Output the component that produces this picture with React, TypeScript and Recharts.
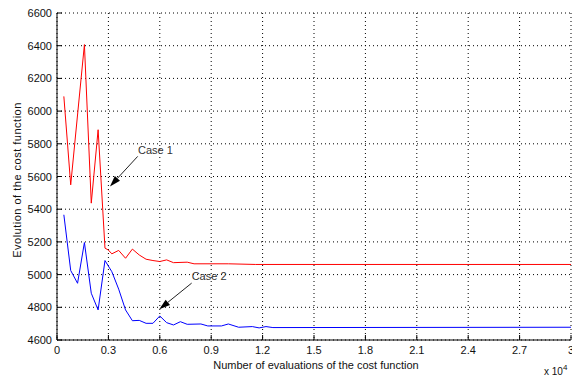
import React from 'react';
import { LineChart, Line, XAxis, YAxis, CartesianGrid, ReferenceLine, ReferenceDot } from 'recharts';

// x values in units of 10^4 evaluations
const redX = [0.04, 0.08, 0.16, 0.20, 0.24, 0.28, 0.30, 0.32, 0.36, 0.40, 0.44, 0.48, 0.52, 0.56, 0.60, 0.64, 0.68, 0.76, 0.80, 1.00, 1.16, 3.00];
const redY = [6090, 5549, 6407, 5437, 5886, 5162, 5150, 5127, 5148, 5100, 5156, 5120, 5094, 5086, 5080, 5090, 5073, 5076, 5066, 5066, 5062, 5062];

const blueX = [0.04, 0.08, 0.12, 0.16, 0.20, 0.24, 0.28, 0.32, 0.36, 0.40, 0.44, 0.48, 0.52, 0.56, 0.60, 0.64, 0.68, 0.72, 0.76, 0.84, 0.88, 0.96, 1.00, 1.06, 1.14, 1.18, 1.22, 1.26, 3.00];
const blueY = [5366, 5025, 4947, 5196, 4886, 4784, 5086, 5018, 4911, 4784, 4718, 4720, 4702, 4702, 4747, 4706, 4692, 4712, 4696, 4698, 4686, 4686, 4698, 4678, 4682, 4674, 4682, 4676, 4678];

const xTicks = [0, 0.3, 0.6, 0.9, 1.2, 1.5, 1.8, 2.1, 2.4, 2.7, 3];
const yTicks = [4600, 4800, 5000, 5200, 5400, 5600, 5800, 6000, 6200, 6400, 6600];

const annotationLabels = ['Case 1', 'Case 2'];
const annotationTextPos = [{ x: 0.473, y: 5764 }, { x: 0.786, y: 4992 }];
const arrowTail = [{ x: 0.471, y: 5723 }, { x: 0.786, y: 4948 }];
const arrowTip = [{ x: 0.309, y: 5539 }, { x: 0.597, y: 4788 }];

const redData = redX.map((x, i) => ({ x, y: redY[i] }));
const blueData = blueX.map((x, i) => ({ x, y: blueY[i] }));

const FONT = '"Liberation Sans", Arial, sans-serif';

const fmtX = (v: number) => (v === 0 ? '0' : v === 3 ? '3' : v.toFixed(1));

const XTick = (props: any) => {
  const { x, y, payload } = props;
  return (
    <g>
      <line x1={x} y1={y} x2={x} y2={y - 5} stroke="#000" strokeWidth={1} />
      <text x={x} y={y + 14} textAnchor="middle" fontSize={11} fill="#111" fontFamily={FONT}>
        {fmtX(payload.value)}
      </text>
    </g>
  );
};

const YTick = (props: any) => {
  const { x, y, payload } = props;
  return (
    <g>
      <line x1={x} y1={y} x2={x + 5} y2={y} stroke="#000" strokeWidth={1} />
      <text x={x - 5} y={y + 4} textAnchor="end" fontSize={11} fill="#111" fontFamily={FONT}>
        {String(payload.value)}
      </text>
    </g>
  );
};

const Arrow = (props: any) => {
  const { x1, y1, x2, y2 } = props;
  const dx = x2 - x1;
  const dy = y2 - y1;
  const len = Math.hypot(dx, dy) || 1;
  const ux = dx / len;
  const uy = dy / len;
  const hl = 11;
  const hw = 3.5;
  const bx = x2 - ux * hl;
  const by = y2 - uy * hl;
  const px = -uy;
  const py = ux;
  return (
    <g>
      <line x1={x1} y1={y1} x2={bx} y2={by} stroke="#222" strokeWidth={1} />
      <polygon
        points={`${x2},${y2} ${bx + px * hw},${by + py * hw} ${bx - px * hw},${by - py * hw}`}
        fill="#000"
      />
    </g>
  );
};

export default function App() {
  return (
    <div style={{ position: 'relative', width: 572, height: 376, background: '#fff' }}>
      <style>{'body{margin:0;background:#fff}'}</style>
      <LineChart width={572} height={376} margin={{ top: 13, right: 1, bottom: 0, left: 0 }}>
        <CartesianGrid stroke="#000" strokeDasharray="1 3" />
        <XAxis
          type="number"
          dataKey="x"
          domain={[0, 3]}
          ticks={xTicks}
          interval={0}
          height={36}
          tickSize={0}
          tickMargin={0}
          tick={<XTick />}
          axisLine={{ stroke: '#000' }}
          allowDataOverflow
        />
        <YAxis
          type="number"
          dataKey="y"
          domain={[4600, 6600]}
          ticks={yTicks}
          interval={0}
          width={57}
          tickSize={0}
          tickMargin={0}
          tick={<YTick />}
          axisLine={{ stroke: '#000' }}
          allowDataOverflow
        />
        <Line data={redData} dataKey="y" type="linear" stroke="#ff0000" strokeWidth={1} dot={false} isAnimationActive={false} />
        <Line data={blueData} dataKey="y" type="linear" stroke="#0000ff" strokeWidth={1} dot={false} isAnimationActive={false} />
        {annotationLabels.map((lab, i) => (
          <ReferenceLine
            key={'a' + i}
            segment={[arrowTail[i], arrowTip[i]]}
            shape={(p: any) => <Arrow {...p} />}
          />
        ))}
        {annotationLabels.map((lab, i) => (
          <ReferenceDot
            key={'t' + i}
            x={annotationTextPos[i].x}
            y={annotationTextPos[i].y}
            r={0}
            shape={(p: any) => (
              <text x={p.cx} y={p.cy + 4} fontSize={11} fill="#333" fontFamily={FONT}>
                {lab}
              </text>
            )}
          />
        ))}
      </LineChart>
      <svg width={572} height={376} style={{ position: 'absolute', left: 0, top: 0, pointerEvents: 'none' }}>
        <text
          x={0}
          y={0}
          transform="translate(20.5,180) rotate(-90)"
          textAnchor="middle"
          fontSize={11}
          letterSpacing={0.5}
          fill="#111"
          fontFamily={FONT}
        >
          Evolution of the cost function
        </text>
        <text x={316} y={369} textAnchor="middle" fontSize={11} fill="#111" fontFamily={FONT}>
          Number of evaluations of the cost function
        </text>
        <text x={544} y={375} fontSize={10} fill="#111" fontFamily={FONT}>
          x 10
        </text>
        <text x={563} y={370} fontSize={8} fill="#111" fontFamily={FONT}>
          4
        </text>
      </svg>
    </div>
  );
}
